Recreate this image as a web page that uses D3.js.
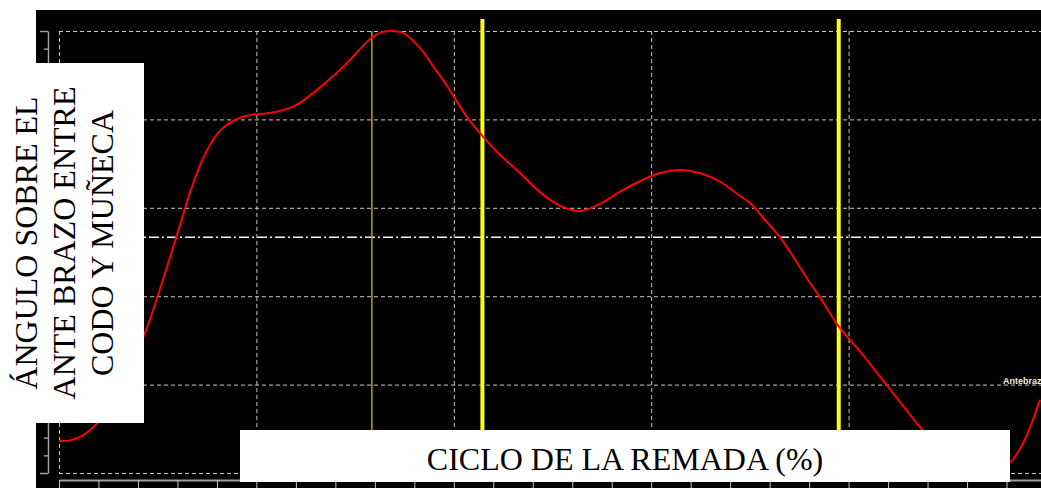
<!DOCTYPE html>
<html>
<head>
<meta charset="utf-8">
<script src="https://cdn.jsdelivr.net/npm/d3@7"></script>
<style>
  html, body { margin: 0; padding: 0; background: #fff; overflow: hidden; }
  svg { display: block; }
</style>
</head>
<body>
<div id="chart"></div>
<script>
// cycle percentage (x) and forearm angle (y)
const cyclePct = [0, 0.9, 1.9, 2.8, 3.9, 5.2, 6.7, 8.7, 10.2, 11.8, 13.3, 14.3, 15.3, 16.3, 17.8, 19.4,
  21.4, 23.4, 24.4, 26.4, 28.0, 29.5, 30.7, 31.8, 32.8, 33.8, 34.9, 35.9, 36.9, 37.9, 38.9, 39.9,
  41.4, 43.0, 44.7, 46.7, 48.7, 50.8, 52.8, 54.8, 56.8, 58.9, 60.9, 62.9, 64.9, 67.0, 69.0, 70.0,
  71.7, 73.1, 75.9, 77.1, 78.9, 81.2, 83.2, 85.2, 87.5, 89.8, 91.8, 93.3, 94.8, 96.4, 97.7, 99.4];
const angle = [30.9, 30.9, 31.9, 33.6, 37.0, 43.8, 53.3, 67.5, 82.1, 99.1, 115.4, 124.5, 131.3, 136.1, 139.8, 141.5,
  142.2, 143.9, 145.6, 150.7, 155.4, 160.2, 164.6, 168.0, 169.7, 170.0, 169.3, 166.6, 162.9, 158.1, 153.4, 148.3,
  140.5, 134.0, 127.9, 121.8, 115.4, 110.6, 108.9, 111.3, 115.4, 119.1, 121.8, 122.8, 121.8, 118.8, 114.0, 111.6,
  105.2, 99.8, 85.5, 79.7, 70.2, 61.1, 52.6, 44.1, 34.6, 27.1, 21.7, 20.3, 21.0, 23.7, 30.2, 44.8];

const xGridTicks = [0, 20, 40, 60, 80, 100];
const yGridTicks = [20, 50, 80, 110, 140, 170];
const refAngle = 100;               // dash-dot reference line
const phaseThin = [31.7];           // thin marker
const phaseThick = [42.9, 79.0];    // thick markers
const yLabelLines = ['ÁNGULO SOBRE EL', 'ANTE BRAZO ENTRE', 'CODO Y MUÑECA'];
const xLabel = 'CICLO DE LA REMADA (%)';
const seriesName = 'Antebrazo';

const W = 1041, H = 488;
const plot = { left: 59, right: 1046, top: 31, bottom: 473 };

const svg = d3.select('#chart').append('svg')
  .attr('width', W).attr('height', H);

svg.append('rect')
  .attr('x', 36).attr('y', 10)
  .attr('width', W - 36).attr('height', H - 10)
  .attr('fill', '#000');

const x = d3.scaleLinear().domain([0, 100]).range([plot.left, plot.right]);
const y = d3.scaleLinear().domain([20, 170]).range([plot.bottom, plot.top]);

// grid
const grid = svg.append('g')
  .attr('stroke', '#cfc8b6')
  .attr('stroke-width', 1)
  .attr('stroke-dasharray', '4,3');

grid.selectAll('line.h').data(yGridTicks).enter().append('line')
  .attr('class', 'h')
  .attr('x1', plot.left).attr('x2', plot.right)
  .attr('y1', d => y(d) + 0.5).attr('y2', d => y(d) + 0.5);

grid.selectAll('line.v').data(xGridTicks).enter().append('line')
  .attr('class', 'v')
  .attr('y1', plot.top).attr('y2', plot.bottom)
  .attr('x1', d => x(d) + 0.5).attr('x2', d => x(d) + 0.5);

svg.append('line')
  .attr('x1', plot.left).attr('x2', plot.right)
  .attr('y1', y(refAngle)).attr('y2', y(refAngle))
  .attr('stroke', '#f2f2ea')
  .attr('stroke-width', 1.3)
  .attr('stroke-dasharray', '10,3,2,3');

// phase markers
svg.selectAll('line.thin').data(phaseThin).enter().append('line')
  .attr('x1', d => x(d)).attr('x2', d => x(d))
  .attr('y1', plot.top).attr('y2', plot.bottom)
  .attr('stroke', '#b4a400').attr('stroke-width', 1.5);

svg.selectAll('line.thick').data(phaseThick).enter().append('line')
  .attr('x1', d => x(d)).attr('x2', d => x(d))
  .attr('y1', 19).attr('y2', plot.bottom)
  .attr('stroke', '#ffff00').attr('stroke-width', 4);

// curve
const pts = cyclePct.map((c, i) => [c, angle[i]]);
const line = d3.line()
  .x(d => x(d[0]))
  .y(d => y(d[1]))
  .curve(d3.curveCatmullRom);

svg.append('path')
  .datum(pts)
  .attr('d', line)
  .attr('fill', 'none')
  .attr('stroke', '#ff0000')
  .attr('stroke-width', 2);

// axes
const yMinor = d3.range(20, 170.1, 6);
const gy = svg.append('g').attr('transform', 'translate(48,0)');
gy.call(d3.axisLeft(y).tickValues(yMinor).tickSize(4).tickSizeOuter(0).tickFormat(''));
gy.call(g => g.selectAll('.tick').filter(d => yGridTicks.includes(d)).select('line').attr('x2', -8));
gy.selectAll('path, line').attr('stroke', '#a0a0a0').attr('stroke-width', 1.5);

const xMinor = d3.range(0, 100.1, 4);
const gx = svg.append('g').attr('transform', 'translate(0,480)');
gx.call(d3.axisBottom(x).tickValues(xMinor).tickSize(9).tickSizeOuter(0).tickFormat(''));
gx.select('path').attr('stroke', '#a0a0a0').attr('stroke-width', 2);
gx.selectAll('line').attr('stroke', '#c8c8c8').attr('stroke-width', 1);

// series label
svg.append('text')
  .attr('x', 1003).attr('y', 384)
  .attr('font-family', 'Liberation Sans, Arial, sans-serif')
  .attr('font-size', 9)
  .attr('font-weight', 'bold')
  .attr('fill', '#eeeee0')
  .text(seriesName);

// axis label boxes
svg.append('rect')
  .attr('x', 0).attr('y', 63).attr('width', 144).attr('height', 360)
  .attr('fill', '#fff');

svg.append('rect')
  .attr('x', 240).attr('y', 430).attr('width', 770).attr('height', 52)
  .attr('fill', '#fff');

const serif = 'Liberation Serif, Times New Roman, serif';

svg.selectAll('text.ylab').data(yLabelLines).enter().append('text')
  .attr('class', 'ylab')
  .attr('transform', (d, i) => `translate(${37 + i * 38},243) rotate(-90)`)
  .attr('text-anchor', 'middle')
  .attr('font-family', serif)
  .attr('font-size', 32)
  .attr('fill', '#000')
  .text(d => d);

svg.append('text')
  .attr('x', 625).attr('y', 470)
  .attr('text-anchor', 'middle')
  .attr('font-family', serif)
  .attr('font-size', 32)
  .attr('fill', '#000')
  .text(xLabel);
</script>
</body>
</html>
